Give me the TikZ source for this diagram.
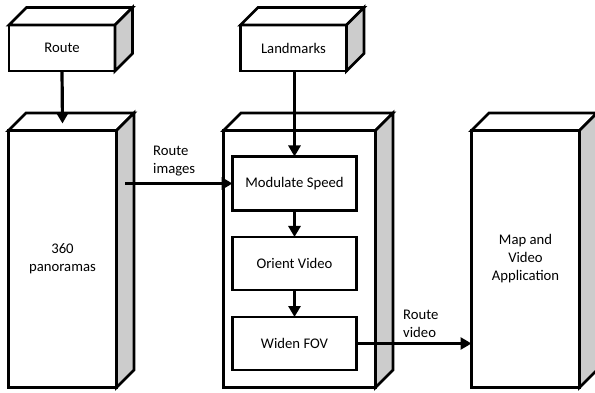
\documentclass[tikz,border=0pt]{standalone}
\usepackage{fontspec}
\setmainfont{Carlito}
\usetikzlibrary{arrows.meta}
\definecolor{sidegray}{HTML}{CCCCCC}
\newcommand\lbl{\fontsize{14.7}{18}\selectfont}
\newcommand\dep{17.5}
\newcommand\cubesides[1]{%
  \draw[face] (#1.north west) -- ++(\dep,-\dep) -- ([shift={(\dep,-\dep)}]#1.north east) -- (#1.north east) -- cycle;
  \draw[face,fill=sidegray] (#1.north east) -- ([shift={(\dep,-\dep)}]#1.north east) -- ([shift={(\dep,-\dep)}]#1.south east) -- (#1.south east) -- cycle;
}
\tikzset{
  face/.style={draw=black, line width=2.7pt, fill=white, line join=miter},
  front/.style={face, rectangle, inner sep=0pt, outer sep=0pt, align=center, font=\lbl},
  arr/.style={line width=3.2pt, -{Triangle[length=11pt,width=12pt]}},
  plain/.style={line width=3.2pt},
  note/.style={inner sep=0pt, align=left, font=\lbl, anchor=west}
}
\begin{document}
\begin{tikzpicture}[x=1pt,y=-1pt]
\useasboundingbox (0,0) rectangle (595,393);
\begin{scope}
\clip (0,0) rectangle (595,393);
% outer 3D boxes
\node[front, minimum width=106pt, minimum height=46pt] (route) at (62,48) {Route};
\cubesides{route}
\node[front, minimum width=106pt, minimum height=46pt] (land) at (293.5,48) {Landmarks};
\cubesides{land}
\node[front, minimum width=108pt, minimum height=257pt] (pano) at (62.5,259) {360\\panoramas};
\cubesides{pano}
\node[front, minimum width=152pt, minimum height=257pt] (proc) at (299.5,259) {};
\cubesides{proc}
\node[front, minimum width=108pt, minimum height=257pt] (app) at (525.5,259) {Map and\\Video\\Application};
\cubesides{app}
% inner boxes
\node[front, minimum width=124pt, minimum height=54pt] (mod) at (294.5,183.5) {Modulate Speed};
\node[front, minimum width=124pt, minimum height=53pt] (ori) at (294.5,263.5) {Orient Video};
\node[front, minimum width=124pt, minimum height=53pt] (wid) at (294.5,343.5) {Widen FOV};
% connectors
\draw[arr] (route.south) -- ([yshift=7pt]pano.north);
\draw[arr] (land.south -| mod.north) -- (mod.north);
\draw[arr] ([xshift=8.5pt]pano.east |- mod.west) -- (mod.west);
\draw[arr] (mod.south) -- (ori.north);
\draw[arr] (ori.south) -- (wid.north);
\draw[arr] (wid.east) -- (app.west |- wid.east);
% labels
\node[note] (lblimg) at (153,161) {Route\\images};
\node[note] (lblvid) at (403,323.5) {Route\\video};
\end{scope}
\end{tikzpicture}
\end{document}
